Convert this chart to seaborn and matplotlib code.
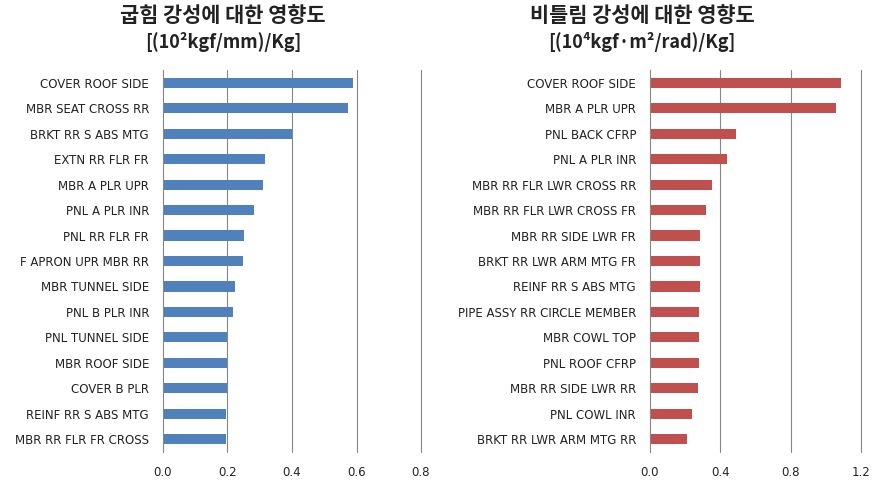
import matplotlib
matplotlib.use("Agg")
import matplotlib.pyplot as plt
import seaborn as sns
import pandas as pd
import numpy as np

sns.set_theme(style="white")
plt.rcParams['font.family'] = ['Noto Sans CJK KR', 'DejaVu Sans']

bend_labels = ["COVER ROOF SIDE", "MBR SEAT CROSS RR", "BRKT RR S ABS MTG", "EXTN RR FLR FR",
               "MBR A PLR UPR", "PNL A PLR INR", "PNL RR FLR FR", "F APRON UPR MBR RR",
               "MBR TUNNEL SIDE", "PNL B PLR INR", "PNL TUNNEL SIDE", "MBR ROOF SIDE",
               "COVER B PLR", "REINF RR S ABS MTG", "MBR RR FLR FR CROSS"]
bend_values = [0.589, 0.573, 0.399, 0.315, 0.309, 0.282, 0.251, 0.248,
               0.223, 0.216, 0.200, 0.199, 0.198, 0.194, 0.194]

tors_labels = ["COVER ROOF SIDE", "MBR A PLR UPR", "PNL BACK CFRP", "PNL A PLR INR",
               "MBR RR FLR LWR CROSS RR", "MBR RR FLR LWR CROSS FR", "MBR RR SIDE LWR FR",
               "BRKT RR LWR ARM MTG FR", "REINF RR S ABS MTG", "PIPE ASSY RR CIRCLE MEMBER",
               "MBR COWL TOP", "PNL ROOF CFRP", "MBR RR SIDE LWR RR", "PNL COWL INR",
               "BRKT RR LWR ARM MTG RR"]
tors_values = [1.088, 1.059, 0.490, 0.439, 0.353, 0.319, 0.285, 0.285, 0.285,
               0.279, 0.279, 0.279, 0.273, 0.239, 0.211]

left_ticks = [0.0, 0.2, 0.4, 0.6, 0.8]
right_ticks = [0.0, 0.4, 0.8, 1.2]

fig = plt.figure(figsize=(8.87, 4.87), dpi=100)
W, H = 887, 487
axL = fig.add_axes([163 / W, 1 - 452 / H, (421 - 163) / W, (452 - 70) / H])
axR = fig.add_axes([650 / W, 1 - 452 / H, (861 - 650) / W, (452 - 70) / H])

LBL_FONT = ['DejaVu Sans']

def draw(ax, labels, values, color, ticks):
    df = pd.DataFrame({"label": labels, "value": values})
    sns.barplot(data=df, y="label", x="value", orient="h", color=color,
                width=0.4, ax=ax, saturation=1, edgecolor="none")
    n = len(labels)
    ax.set_xlim(ticks[0], ticks[-1])
    ax.set_ylim(n - 0.5, -0.5)
    ax.set_xticks(ticks)
    ax.set_xticklabels([f"{t:.1f}" for t in ticks], fontsize=8.5, color="#222222", family=LBL_FONT)
    ax.set_yticks(range(n))
    ax.set_yticklabels(labels, fontsize=8.5, color="#222222", family=LBL_FONT)
    ax.set_xlabel("")
    ax.set_ylabel("")
    ax.tick_params(axis="y", which="major", length=0, pad=10)
    ax.tick_params(axis="x", which="major", length=0, pad=10)
    ax.set_yticks(np.arange(-0.5, n, 1.0), minor=True)
    ax.tick_params(axis="y", which="minor", length=5, color="#868686", width=0.8, direction="out")
    for t in ticks[1:]:
        ax.axvline(t, color="#868686", lw=0.8, zorder=0, clip_on=False)
    for s in ["top", "right", "bottom"]:
        ax.spines[s].set_visible(False)
    ax.spines["left"].set_color("#868686")
    ax.spines["left"].set_linewidth(0.8)
    ax.set_axisbelow(True)

draw(axL, bend_labels, bend_values, "#4F81BD", left_ticks)
draw(axR, tors_labels, tors_values, "#C0504D", right_ticks)

T1 = dict(ha="center", va="center", fontsize=15, fontweight="bold", color="#222222")
T2 = dict(ha="center", va="center", fontsize=13, fontweight="bold", color="#222222")
fig.text(223 / W, 1 - 16 / H, "굽힘 강성에 대한 영향도", **T1)
fig.text(223 / W, 1 - 42 / H, "[(10²kgf/mm)/Kg]", **T2)
fig.text(642 / W, 1 - 16 / H, "비틀림 강성에 대한 영향도", **T1)
fig.text(642 / W, 1 - 42 / H, "[(10⁴kgf·m²/rad)/Kg]", **T2)

fig.savefig("out.png", dpi=100, facecolor="white")
